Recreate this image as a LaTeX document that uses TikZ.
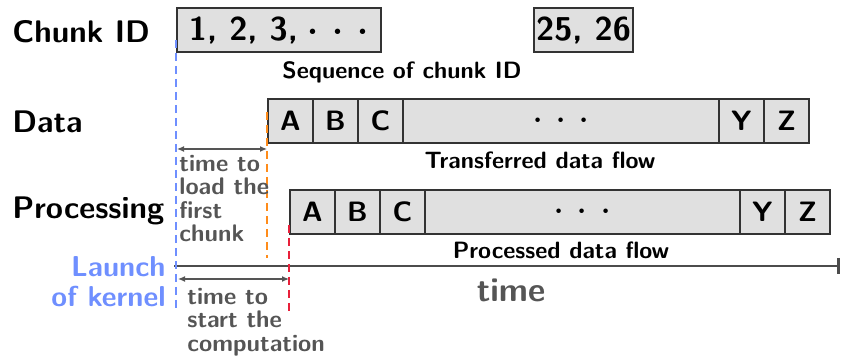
\documentclass[tikz,border=0pt]{standalone}
\usepackage{amsmath}
\usepackage{tikz}
\usetikzlibrary{positioning, arrows.meta}
\definecolor{launchblue}{RGB}{111,143,255}
\definecolor{loadorange}{RGB}{255,140,26}
\definecolor{startred}{RGB}{232,32,58}
\definecolor{notegray}{RGB}{85,85,85}
\newcommand{\spreaddots}{$\boldsymbol{\cdot}$\hspace{7pt}$\boldsymbol{\cdot}$\hspace{7pt}$\boldsymbol{\cdot}$}

\begin{document}
\begin{tikzpicture}[x=0.5pt, y=-0.5pt,
    font=\sffamily\bfseries,
    cell/.style={draw=black!80, fill=black!12, line width=0.6pt,
                 outer sep=0pt, inner sep=0pt,
                 minimum height=22pt, minimum width=22.5pt,
                 font=\fontsize{14}{16}\sffamily\bfseries},
    rowlabel/.style={anchor=west, inner sep=0pt,
                 font=\fontsize{15.6}{18}\sffamily\bfseries},
    caption/.style={inner sep=0pt, font=\fontsize{11.8}{14}\sffamily\bfseries},
    note/.style={inner sep=0pt, align=left, text=notegray,
                 font=\fontsize{12}{11.7}\sffamily\bfseries},
    guide/.style={dashed, line width=1pt, dash pattern=on 4pt off 2.5pt},
    span/.style={<->, >={Latex[length=3.5pt,width=3pt]}, draw=notegray, line width=0.6pt}]
    \useasboundingbox (0,0) rectangle (841,356);
    % Row labels
        \node[rowlabel] (legend1) at (12,32) {Chunk ID};
        \node[rowlabel] (legend2) at (12,122) {Data};
        \node[rowlabel] (legend3) at (12,211) {Processing};
    % Chunk IDs
        \node[cell, anchor=north west, minimum width=102pt,
              font=\fontsize{16.5}{18}\sffamily\bfseries] (c1) at (177,8)
              {1, 2, 3,\hspace{5pt}\spreaddots\hspace{6pt}};
        \node[cell, anchor=north west, minimum width=49.5pt,
              font=\fontsize{16.5}{18}\sffamily\bfseries] (c2) at (534,8) {25, 26};
        \node[caption] (seq) at (402,72) {Sequence of chunk ID};
    % Transferred data
        \node[cell, anchor=north west] (dA) at (268,99) {A};
        \node[cell, right=0pt of dA] (dB) {B};
        \node[cell, right=0pt of dB] (dC) {C};
        \node[cell, right=0pt of dC, minimum width=158pt] (dDots) {\spreaddots};
        \node[cell, right=0pt of dDots] (dY) {Y};
        \node[cell, right=0pt of dY] (dZ) {Z};
        \node[caption] (trans) at (540,160) {Transferred data flow};
    % Processed data
        \node[cell, anchor=north west] (pA) at (290,190) {A};
        \node[cell, right=0pt of pA] (pB) {B};
        \node[cell, right=0pt of pB] (pC) {C};
        \node[cell, right=0pt of pC, minimum width=157.5pt] (pDots) {\spreaddots};
        \node[cell, right=0pt of pDots] (pY) {Y};
        \node[cell, right=0pt of pY] (pZ) {Z};
        \node[caption] (proc) at (561,250) {Processed data flow};
    % Time axis
        \coordinate (t0) at (174,266);
        \coordinate (tEnd) at (840,266);
        \draw[draw=black!70, line width=1.4pt, -{Bar[width=8pt]}] (t0) -- (tEnd);
        \node[inner sep=0pt, text=notegray, font=\fontsize{16.8}{19}\sffamily\bfseries]
             (time) at (511,290) {time};
        \node[inner sep=0pt, anchor=east, align=right, text=launchblue,
              font=\fontsize{14.4}{15}\sffamily\bfseries] (launch) at (166,282)
              {Launch\\of kernel};
    % Guide lines
        \coordinate (b1) at (176,40);   \coordinate (b2) at (176,311);
        \coordinate (o1) at (267,112);  \coordinate (o2) at (267,258);
        \coordinate (r1) at (289,225);  \coordinate (r2) at (289,311);
        \draw[guide, launchblue] (b1) -- (b2);
        \draw[guide, loadorange] (o1) -- (o2);
        \draw[guide, startred] (r1) -- (r2);
    % Delays
        \coordinate (a1) at (177,149);  \coordinate (a2) at (267,149);
        \coordinate (a3) at (178,279);  \coordinate (a4) at (289,279);
        \draw[span] (a1) -- (a2);
        \draw[span] (a3) -- (a4);
        \node[note, anchor=north west] (load) at (179,155)
             {time to\\load the\\first\\chunk};
        \node[note, anchor=north west] (start) at (187,288)
             {time to\\start the\\computation};
\end{tikzpicture}
\end{document}
